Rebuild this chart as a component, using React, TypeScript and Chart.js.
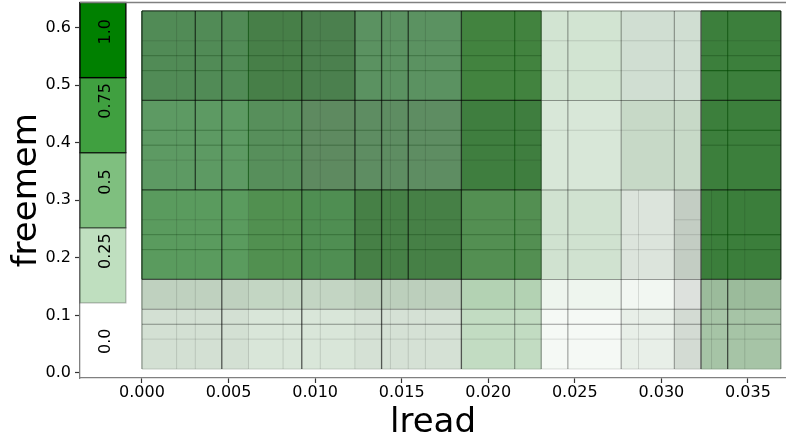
import React, { useEffect, useRef } from "react";
import { Chart, registerables } from "chart.js";

Chart.register(...registerables);

// ---- data ----
const LREAD_EDGES = [0, 0.00615, 0.00923, 0.0123, 0.01845, 0.02306, 0.02768, 0.03075, 0.03229, 0.0369];
const FREEMEM_EDGES = [0.007, 0.1107, 0.1625, 0.318, 0.4735, 0.629];

// shade of each cell, rows from low freemem to high freemem
const CELL_SHADES = [
  ["#d3e0d3", "#d9e6d9", "#d9e6d9", "#d5e1d5", "#c2dcc2", "#f5f9f5", "#e8efe8", "#d3dbd3", "#a6c4a6"],
  ["#bfd1bf", "#c3d6c3", "#c3d5c3", "#bccfbc", "#b3d2b3", "#eef5ee", "#f2f7f2", "#dde1dd", "#9bbb9b"],
  ["#5a9b5e", "#519050", "#4f8e52", "#468046", "#538f52", "#d0e2d0", "#dce4dc", "#c3cdc3", "#3b7e3b"],
  ["#5d9a63", "#578f5b", "#5e8a60", "#5e8d62", "#3f7e3f", "#d8e7d8", "#c7d9c7", "#c7d9c7", "#3c7f3c"],
  ["#518b56", "#477f48", "#4b804e", "#5b9261", "#42833f", "#d2e4d2", "#d0ded2", "#d0ded2", "#3c7f3c"],
];

// vertical split lines: [lread, freemem from, freemem to, kind]
const V_SPLITS: [number, number, number, string][] = [
  [0, 0.1625, 0.629, "major"], [0, 0.007, 0.1625, "mid"],
  [0.002, 0.007, 0.629, "faint"],
  [0.00308, 0.318, 0.629, "major"], [0.00308, 0.007, 0.318, "faint"],
  [0.00461, 0.007, 0.629, "major"],
  [0.00615, 0.318, 0.629, "green"], [0.00615, 0.007, 0.318, "faint"],
  [0.00815, 0.007, 0.629, "faint"],
  [0.00923, 0.007, 0.629, "major"],
  [0.0103, 0.007, 0.629, "faint"],
  [0.0123, 0.1625, 0.629, "major"], [0.0123, 0.007, 0.1625, "faint"],
  [0.01384, 0.007, 0.629, "major"],
  [0.01435, 0.007, 0.629, "faint"],
  [0.01538, 0.1625, 0.629, "major"], [0.01538, 0.007, 0.1625, "faint"],
  [0.01637, 0.007, 0.629, "faint"],
  [0.01845, 0.007, 0.629, "major"],
  [0.02153, 0.1625, 0.629, "green"], [0.02153, 0.007, 0.1625, "mid"],
  [0.02306, 0.007, 0.629, "mid"],
  [0.0246, 0.007, 0.629, "mid"],
  [0.02768, 0.007, 0.629, "mid"],
  [0.02868, 0.007, 0.318, "faint"],
  [0.03075, 0.007, 0.629, "mid"],
  [0.03229, 0.007, 0.629, "major"],
  [0.0329, 0.007, 0.318, "faint"],
  [0.03383, 0.1625, 0.629, "green"], [0.03383, 0.007, 0.1625, "major"],
  [0.03482, 0.007, 0.318, "faint"],
  [0.0369, 0.1625, 0.629, "major"], [0.0369, 0.007, 0.1625, "mid"],
];

// horizontal split lines: [freemem, lread from, lread to, kind]
const H_SPLITS: [number, number, number, string][] = [
  [0.629, 0, 0.02306, "major"], [0.629, 0.02306, 0.03229, "mid"], [0.629, 0.03229, 0.0369, "major"],
  [0.4735, 0, 0.02306, "major"], [0.4735, 0.02306, 0.03229, "mid"], [0.4735, 0.03229, 0.0369, "major"],
  [0.318, 0, 0.02306, "major"], [0.318, 0.02306, 0.03229, "mid"], [0.318, 0.03229, 0.0369, "major"],
  [0.1625, 0, 0.02306, "major"], [0.1625, 0.02306, 0.03229, "mid"], [0.1625, 0.03229, 0.0369, "major"],
  [0.007, 0, 0.0369, "faint"],
  [0.5772, 0, 0.0369, "faint"],
  [0.5513, 0, 0.02306, "minor"], [0.5513, 0.03229, 0.0369, "minor"],
  [0.5253, 0, 0.02306, "minor"], [0.5253, 0.02306, 0.03229, "faint"], [0.5253, 0.03229, 0.0369, "green"],
  [0.4217, 0, 0.02306, "minor"], [0.4217, 0.02306, 0.03229, "faint"], [0.4217, 0.03229, 0.0369, "green"],
  [0.3958, 0, 0.02306, "minor"], [0.3958, 0.03229, 0.0369, "minor"],
  [0.3698, 0, 0.02306, "faint"],
  [0.2662, 0, 0.02306, "faint"], [0.2662, 0.03075, 0.03229, "faint"],
  [0.2403, 0, 0.02306, "minor"], [0.2403, 0.02306, 0.03229, "faint"], [0.2403, 0.03229, 0.0369, "green"],
  [0.2143, 0, 0.02306, "minor"], [0.2143, 0.02306, 0.03229, "faint"], [0.2143, 0.03229, 0.0369, "minor"],
  [0.1107, 0, 0.0369, "mid"],
  [0.0848, 0, 0.0369, "mid"],
  [0.0588, 0, 0.0369, "faint"],
];

const X_TICKS = [0, 0.005, 0.01, 0.015, 0.02, 0.025, 0.03, 0.035];
const Y_TICKS = [0, 0.1, 0.2, 0.3, 0.4, 0.5, 0.6];
const X_LIMITS = [-0.00358, 0.0372];
const Y_LIMITS = [-0.0087, 0.6437];

const LEGEND_VALUES = [0.0, 0.25, 0.5, 0.75, 1.0];
const LEGEND_LABELS = ["0.0", "0.25", "0.5", "0.75", "1.0"];

// ---- styles ----
const FONT = "'DejaVu Sans', sans-serif";
const LINE_STYLES: Record<string, { color: string; width: number }> = {
  major: { color: "rgba(0,0,0,0.62)", width: 1.3 },
  mid: { color: "rgba(0,0,0,0.38)", width: 1.1 },
  green: { color: "rgba(0,70,0,0.6)", width: 1.1 },
  minor: { color: "rgba(0,45,0,0.3)", width: 1 },
  faint: { color: "rgba(0,0,0,0.12)", width: 1 },
};
const LEGEND_LABEL_POS = [0.49, 0.69, 0.61, 0.69, 0.61];

const legendPlugin = {
  id: "freeLegend",
  afterDatasetsDraw(chart: any) {
    const { ctx, chartArea } = chart;
    const { left, top, bottom, right } = chartArea;
    const w = (right - left) * 0.065;
    const h = (bottom - top) / LEGEND_VALUES.length;
    ctx.save();
    LEGEND_VALUES.forEach((v, i) => {
      const y0 = bottom - (i + 1) * h;
      ctx.fillStyle = `rgba(0,128,0,${v})`;
      ctx.fillRect(left, y0, w, h);
      ctx.strokeStyle = `rgba(0,0,0,${v})`;
      ctx.lineWidth = 1.3;
      ctx.strokeRect(left, y0, w, h);
    });
    ctx.fillStyle = "#000";
    ctx.font = `16px ${FONT}`;
    ctx.textAlign = "center";
    ctx.textBaseline = "middle";
    LEGEND_LABELS.forEach((t, i) => {
      const cy = bottom - (i + LEGEND_LABEL_POS[i]) * h;
      ctx.save();
      ctx.translate(left + w / 2 + 3, cy);
      ctx.rotate(-Math.PI / 2);
      ctx.fillText(t, 0, 0);
      ctx.restore();
    });
    ctx.restore();
  },
  afterDraw(chart: any) {
    const { ctx, chartArea } = chart;
    ctx.save();
    ctx.strokeStyle = "#808080";
    ctx.lineWidth = 1.3;
    ctx.beginPath();
    ctx.moveTo(chartArea.left, chartArea.top);
    ctx.lineTo(chartArea.right, chartArea.top);
    ctx.stroke();
    ctx.restore();
  },
};

export default function App() {
  const ref = useRef<HTMLCanvasElement>(null);
  useEffect(() => {
    const canvas = ref.current;
    if (!canvas) return;
    const datasets: any[] = [];
    for (let r = 0; r < FREEMEM_EDGES.length - 1; r++) {
      for (let c = 0; c < LREAD_EDGES.length - 1; c++) {
        const x0 = LREAD_EDGES[c], x1 = LREAD_EDGES[c + 1];
        const y0 = FREEMEM_EDGES[r], y1 = FREEMEM_EDGES[r + 1];
        const color = CELL_SHADES[r][c];
        datasets.push({
          type: "line",
          data: [
            { x: x0, y: y0 }, { x: x1, y: y0 }, { x: x1, y: y1 }, { x: x0, y: y1 }, { x: x0, y: y0 },
          ],
          backgroundColor: color,
          borderColor: color,
          borderWidth: 0.8,
          fill: "shape",
          pointRadius: 0,
          tension: 0,
          order: 3,
        });
      }
    }
    V_SPLITS.forEach(([x, ya, yb, kind]) => {
      const st = LINE_STYLES[kind];
      datasets.push({
        type: "line",
        data: [{ x, y: ya }, { x, y: yb }],
        borderColor: st.color,
        borderWidth: st.width,
        fill: false,
        pointRadius: 0,
        order: kind === "major" ? 1 : 2,
      });
    });
    H_SPLITS.forEach(([y, xa, xb, kind]) => {
      const st = LINE_STYLES[kind];
      datasets.push({
        type: "line",
        data: [{ x: xa, y }, { x: xb, y }],
        borderColor: st.color,
        borderWidth: st.width,
        fill: false,
        pointRadius: 0,
        order: kind === "major" ? 1 : 2,
      });
    });

    const chart = new Chart(canvas, {
      type: "scatter",
      data: { datasets },
      plugins: [legendPlugin],
      options: {
        animation: false,
        responsive: false,
        devicePixelRatio: 1,
        layout: { padding: { top: 2.5, left: 0, right: 0, bottom: 0 }, autoPadding: false },
        plugins: { legend: { display: false }, tooltip: { enabled: false } },
        scales: {
          x: {
            type: "linear",
            min: X_LIMITS[0],
            max: X_LIMITS[1],
            afterBuildTicks: (s: any) => {
              s.ticks = X_TICKS.map((v) => ({ value: v }));
            },
            afterFit: (s: any) => {
              s.height = 56;
              s.paddingLeft = 0;
              s.paddingRight = 0;
            },
            ticks: {
              callback: (v: any) => Number(v).toFixed(3),
              font: { family: FONT, size: 16 },
              color: "#000",
              padding: 0,
              maxRotation: 0,
              autoSkip: false,
            },
            grid: { drawOnChartArea: false, drawTicks: true, tickLength: 5, tickColor: "#333", tickWidth: 1.2 },
            border: { display: true, color: "#808080", width: 1.3 },
            title: {
              display: true,
              text: "lread",
              color: "#000",
              font: { family: FONT, size: 34, lineHeight: 0.62 },
              padding: { top: 0, bottom: 0 },
            },
          },
          y: {
            type: "linear",
            min: Y_LIMITS[0],
            max: Y_LIMITS[1],
            afterBuildTicks: (s: any) => {
              s.ticks = Y_TICKS.map((v) => ({ value: v }));
            },
            afterFit: (s: any) => {
              s.width = 80;
              s.paddingTop = 0;
              s.paddingBottom = 0;
            },
            ticks: {
              callback: (v: any) => Number(v).toFixed(1),
              font: { family: FONT, size: 16 },
              color: "#000",
              padding: 4,
            },
            grid: { drawOnChartArea: false, drawTicks: true, tickLength: 5, tickColor: "#333", tickWidth: 1.2 },
            border: { display: true, color: "#808080", width: 1.3 },
            title: {
              display: true,
              text: "freemem",
              color: "#000",
              font: { family: FONT, size: 34, lineHeight: 1 },
              padding: { top: 10, bottom: 0 },
            },
          },
        },
      } as any,
    });
    return () => chart.destroy();
  }, []);

  return (
    <div style={{ position: "fixed", left: 0, top: 0, width: 786, height: 434, background: "#fff" }}>
      <canvas ref={ref} width={786} height={434} style={{ display: "block" }} />
    </div>
  );
}
